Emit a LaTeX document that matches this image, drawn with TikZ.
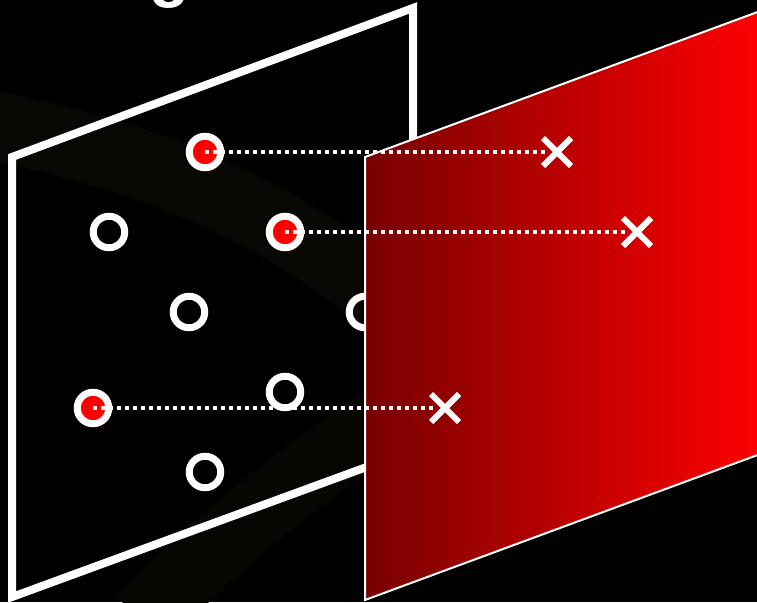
\documentclass[tikz,border=0pt]{standalone}
\usepackage{fontspec}
\newfontfamily\glyphfont{Liberation Sans}
\begin{document}
\begin{tikzpicture}[x=1pt,y=-1pt,
  ring/.style={circle,draw=white,line width=7pt,minimum size=31.5pt,inner sep=0pt,outer sep=0pt},
  hit/.style={ring,fill=red},
  miss/.style={ring,fill=none},
  dots/.style={white,line width=4pt,dash pattern=on 4pt off 4pt,line cap=butt},
  cross/.style={white,line width=6pt,line cap=butt},
  band/.style={line width=70pt,color={rgb,255:red,7;green,8;blue,3}}]
\definecolor{darkred}{RGB}{120,0,0}
\useasboundingbox (0,0) rectangle (757,602);
\fill[black] (0,0) rectangle (757,602);
\begin{scope}
\clip (0,0) rectangle (757,602);
% faint background swirls
\draw[band] (-40,120) .. controls (200,160) and (420,260) .. (560,520);
\draw[band,color={rgb,255:red,6;green,7;blue,3}] (140,620) .. controls (300,460) and (520,300) .. (820,250);
% partial glyph at the top
\node[anchor=base,inner sep=0pt,text=white,font=\glyphfont\bfseries\fontsize{66}{66}\selectfont] (glyph) at (170,-5) {g};
% left plane
\draw[white,line width=8pt,line join=miter] (12,157) -- (413,8) -- (413,450) -- (12,597) -- cycle;
% circles
\node[hit]  (c1) at (205,152) {};
\node[miss] (c2) at (109,232) {};
\node[hit]  (c3) at (285,232) {};
\node[miss] (c4) at (189,312) {};
\node[miss] (c5) at (365,312) {};
\node[hit]  (c6) at (93,408) {};
\node[miss] (c7) at (285,392) {};
\node[miss] (c8) at (205,472) {};
% red plane
\shade[left color=darkred,right color=red,shading angle=90] (365,157) -- (763,10) -- (763,453) -- (365,600) -- cycle;
\draw[white,line width=2pt] (365,157) -- (763,10) -- (763,453) -- (365,600) -- cycle;
% cross positions
\coordinate (x1) at (557,152);
\coordinate (x2) at (637,232);
\coordinate (x3) at (445,408);
% dotted connectors
\draw[dots,shorten >=12pt] (c1.center) -- (x1);
\draw[dots,shorten >=12pt] (c3.center) -- (x2);
\draw[dots,shorten >=12pt] (c6.center) -- (x3);
% crosses
\foreach \p in {x1,x2,x3}{
  \draw[cross] ([shift={(-14,-14)}]\p) -- ([shift={(14,14)}]\p);
  \draw[cross] ([shift={(-14,14)}]\p) -- ([shift={(14,-14)}]\p);
}
\end{scope}
\end{tikzpicture}
\end{document}
